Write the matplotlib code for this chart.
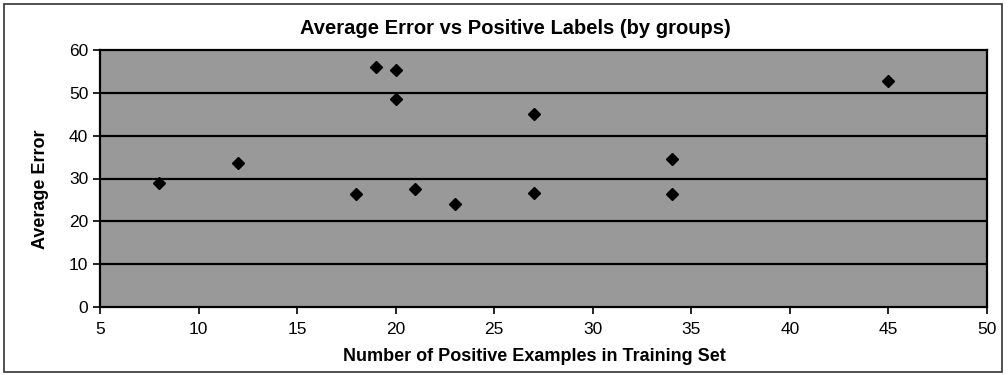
import matplotlib
matplotlib.use('Agg')
import matplotlib.pyplot as plt
from matplotlib.patches import Rectangle

plt.rcParams['font.family'] = ['Liberation Sans', 'DejaVu Sans']

# positives per group vs average error
num_positive = [8, 12, 18, 19, 20, 20, 21, 23, 27, 27, 34, 34, 45]
avg_error = [28.9, 33.7, 26.4, 56.0, 55.2, 48.5, 27.6, 24.1, 45.0, 26.7, 34.6, 26.3, 52.8]

x_ticks = [5, 10, 15, 20, 25, 30, 35, 40, 45, 50]
y_ticks = [0, 10, 20, 30, 40, 50, 60]

fig = plt.figure(figsize=(10.08, 3.75), dpi=100)
ax = fig.add_axes([0.0992, 0.181, 0.8800, 0.686])

ax.set_facecolor('#999999')
for y in y_ticks[1:-1]:
    ax.axhline(y, color='black', lw=1.6, zorder=1)

ax.plot(num_positive, avg_error, 'kD', markersize=6.5, zorder=3)

ax.set_xlim(5, 50)
ax.set_ylim(0, 60)
ax.set_xticks(x_ticks)
ax.set_yticks(y_ticks)
ax.tick_params(direction='out', length=5, width=1.2, labelsize=12.5, colors='black')
ax.tick_params(axis='x', pad=6)

for s in ax.spines.values():
    s.set_linewidth(1.6)

fig.text(0.511, 0.925, 'Average Error vs Positive Labels (by groups)', fontsize=14.5,
         fontweight='bold', ha='center', va='center')
ax.set_xlabel('Number of Positive Examples in Training Set', fontsize=13, fontweight='bold')
ax.xaxis.set_label_coords(0.49, -0.16)
ax.set_ylabel('Average Error', fontsize=13, fontweight='bold')
ax.yaxis.set_label_coords(-0.058, 0.46)

# frame round the whole chart
fig.patches.append(Rectangle((0.004, 0.008), 0.99, 0.982, transform=fig.transFigure,
                             fill=False, edgecolor='#333333', lw=1.2))

fig.savefig('out.png', dpi=100)
